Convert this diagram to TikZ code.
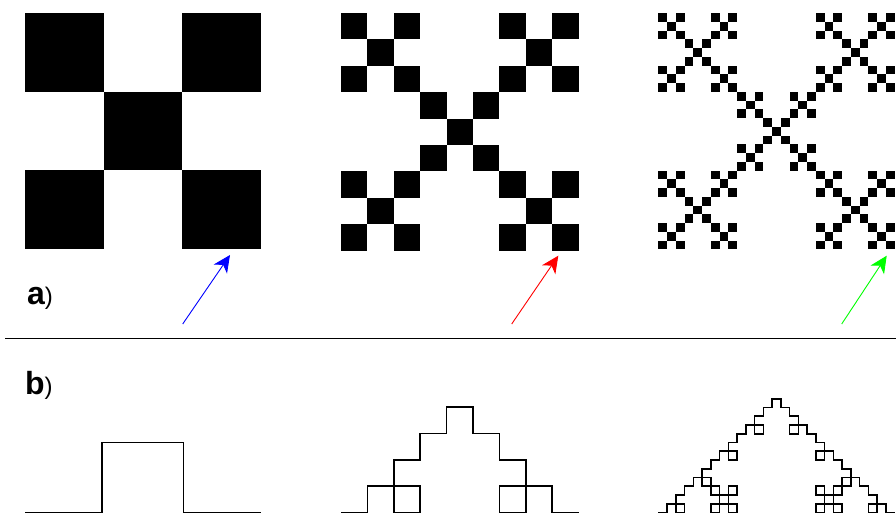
\documentclass[tikz,border=0pt]{standalone}
\usepackage{fontspec}
\setmainfont{Liberation Sans}
\usetikzlibrary{arrows.meta,lindenmayersystems}
\pgfdeclarelindenmayersystem{square koch}{\rule{F -> F+F-F-F+F}}
\tikzset{
  cell/.style={fill=black},
  curve/.style={line width=1.6pt},
  pointer/.style={line width=0.9pt, -{Stealth[length=17pt,width=16pt,inset=5pt]}},
  tag/.style={anchor=base west, inner sep=0pt}
}
\newcommand{\tagtext}[1]{{\fontsize{32}{32}\selectfont\bfseries #1\fontsize{24}{24}\selectfont\mdseries)}}
\begin{document}
\begin{tikzpicture}[x=1pt,y=-1pt]
  \useasboundingbox (0,0) rectangle (896,514);
  % a) squares, three steps
  \foreach \i/\j in {0/0,0/2,1/1,2/0,2/2}
    \fill[cell] ({25+\i*78.67},{13+\j*78.67}) rectangle +(78.67,78.67);
  \foreach \a/\b in {0/0,0/2,1/1,2/0,2/2}
    \foreach \c/\d in {0/0,0/2,1/1,2/0,2/2}
      \fill[cell] ({341+(3*\a+\c)*26.4},{13+(3*\b+\d)*26.4}) rectangle +(26.4,26.4);
  \foreach \a/\b in {0/0,0/2,1/1,2/0,2/2}
    \foreach \c/\d in {0/0,0/2,1/1,2/0,2/2}
      \foreach \e/\f in {0/0,0/2,1/1,2/0,2/2}
        \fill[cell] ({658.3+(9*\a+3*\c+\e)*8.75},{13+(9*\b+3*\d+\f)*8.75}) rectangle +(8.75,8.75);
  \node[tag] (taga) at (27,304) {\tagtext{a}};
  \coordinate (tail1) at (182.7,324);
  \coordinate (tip1) at (230,255);
  \coordinate (tail2) at (511.7,324);
  \coordinate (tip2) at (558.3,255.7);
  \coordinate (tail3) at (841.7,324);
  \coordinate (tip3) at (886.7,255.7);
  \draw[pointer, blue] (tail1) -- (tip1);
  \draw[pointer, red] (tail2) -- (tip2);
  \draw[pointer, green] (tail3) -- (tip3);
  \draw[line width=1.5pt] (5,338.3) -- (896,338.3);
  % b) curves, three steps
  \node[tag] (tagb) at (25,394.3) {\tagtext{b}};
  \draw[curve] (25,512.5) -- (101.7,512.5) -- (101.7,442.5) -- (183.3,442.5)
    -- (183.3,512.5) -- (261,512.5);
  \begin{scope}[shift={(341,512.5)}]
    \draw[curve, l-system={square koch, axiom=F, order=2, step=26.4pt, angle=90}]
      (0,0) lindenmayer system;
  \end{scope}
  \begin{scope}[shift={(658.3,512.5)}]
    \draw[curve, l-system={square koch, axiom=F, order=3, step=8.75pt, angle=90}]
      (0,0) lindenmayer system;
  \end{scope}
\end{tikzpicture}
\end{document}
